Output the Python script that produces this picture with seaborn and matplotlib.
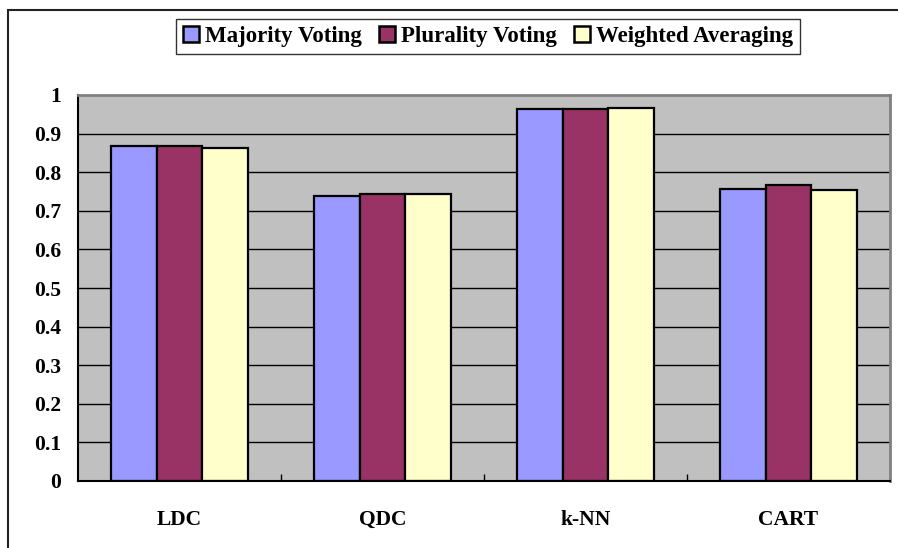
import matplotlib
matplotlib.use("Agg")
import matplotlib.pyplot as plt
from matplotlib.patches import Rectangle
import numpy as np
import pandas as pd
import seaborn as sns

# Classifier accuracy per combination rule
classifiers = ["LDC", "QDC", "k-NN", "CART"]
majority_voting = [0.869, 0.738, 0.963, 0.756]
plurality_voting = [0.869, 0.743, 0.963, 0.766]
weighted_averaging = [0.862, 0.743, 0.966, 0.753]
methods = ["Majority Voting", "Plurality Voting", "Weighted Averaging"]
colors = ["#9999FF", "#993366", "#FFFFCC"]
y_ticks = [0, 0.1, 0.2, 0.3, 0.4, 0.5, 0.6, 0.7, 0.8, 0.9, 1]
y_tick_labels = ["0", "0.1", "0.2", "0.3", "0.4", "0.5", "0.6", "0.7", "0.8", "0.9", "1"]

df = pd.DataFrame({
    "Classifier": classifiers * 3,
    "Method": [m for m in methods for _ in classifiers],
    "Accuracy": majority_voting + plurality_voting + weighted_averaging,
})

plt.rcParams["font.family"] = ["Liberation Serif", "DejaVu Serif"]
plt.rcParams["font.weight"] = "bold"

fig = plt.figure(figsize=(8.98, 5.48), dpi=100)
ax = fig.add_axes([78 / 898, 1 - 481 / 548, (890 - 78) / 898, (481 - 95) / 548])
ax.set_facecolor("#C0C0C0")

# horizontal grid lines behind the bars
for t in y_ticks[1:-1]:
    ax.axhline(t, color="#000000", lw=1.0, zorder=0.5)

sns.barplot(data=df, x="Classifier", y="Accuracy", hue="Method",
            hue_order=methods, order=classifiers, palette=colors,
            width=0.67, edgecolor="black", linewidth=1.6,
            saturation=1, ax=ax, zorder=2, legend=False)

ax.set_xlim(-0.5, 3.5)
ax.set_ylim(0, 1)
ax.set_yticks(y_ticks)
ax.set_yticklabels(y_tick_labels, fontsize=15.5, fontweight="bold")
ax.set_xticks(range(len(classifiers)))
ax.set_xticklabels(classifiers, fontsize=15.5, fontweight="bold")
ax.tick_params(axis="y", length=0, pad=12)
ax.tick_params(axis="x", which="major", length=0, pad=21)
ax.set_xticks([0.5, 1.5, 2.5], minor=True)
ax.tick_params(axis="x", which="minor", direction="in", length=5, width=1, color="black")
ax.set_xlabel("")
ax.set_ylabel("")

for side in ["left", "bottom"]:
    ax.spines[side].set_color("black")
    ax.spines[side].set_linewidth(1.5)
for side in ["top", "right"]:
    ax.spines[side].set_color("#808080")
    ax.spines[side].set_linewidth(2)

# legend with square swatches in a plain box
handles = [Rectangle((0, 0), 1, 1, facecolor=c, edgecolor="black", lw=1.8) for c in colors]
leg = fig.legend(handles, methods, loc="center", bbox_to_anchor=(488 / 898, 1 - 36.5 / 548),
                 ncol=3, frameon=True, fancybox=False, handlelength=0.7, handleheight=0.7,
                 handletextpad=0.25, columnspacing=0.75, borderpad=0.3, borderaxespad=0,
                 prop={"family": "Liberation Serif", "weight": "bold", "size": 16.5})
leg.get_frame().set_edgecolor("black")
leg.get_frame().set_linewidth(1.0)

# outer chart border
fig.patches.append(Rectangle((8 / 898, -0.1), 1.2, 1.1 - 10 / 548, transform=fig.transFigure,
                             fill=False, edgecolor="#222222", lw=1.5))

fig.savefig("out.png", dpi=100)
